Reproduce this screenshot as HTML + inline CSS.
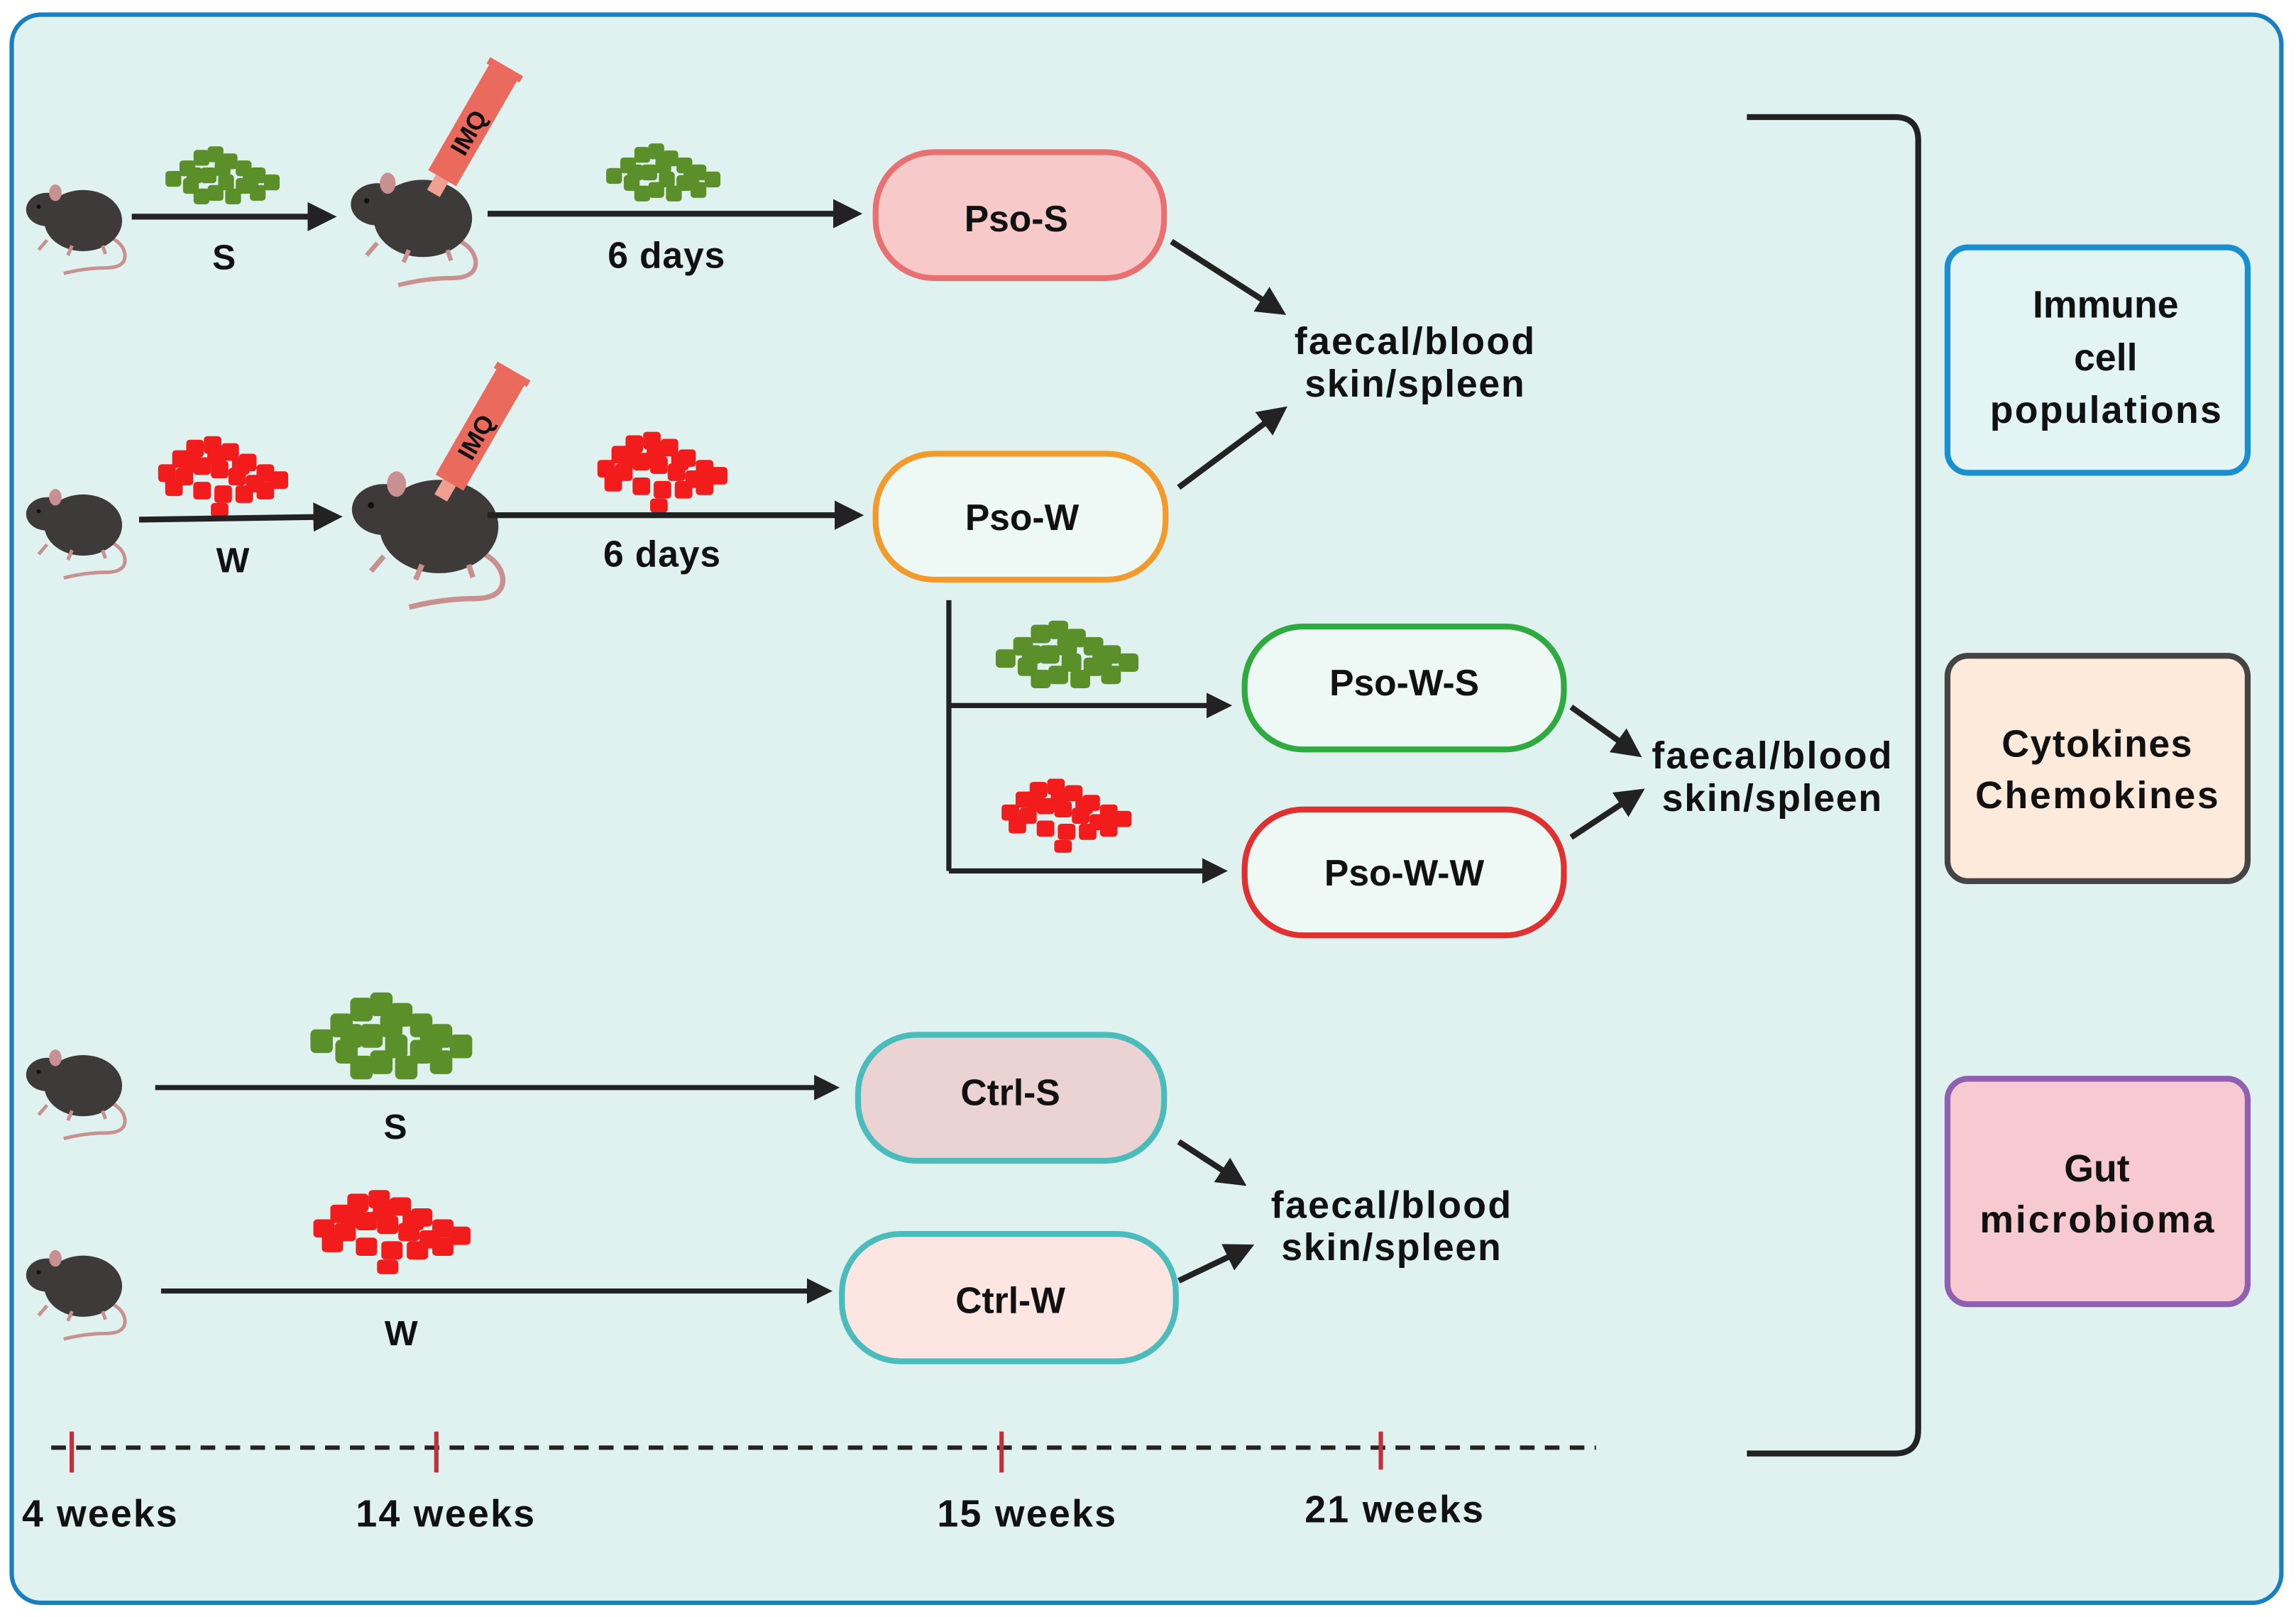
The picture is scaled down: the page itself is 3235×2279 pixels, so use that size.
<!DOCTYPE html>
<html><head><meta charset="utf-8"><style>
html,body{margin:0;padding:0;background:#fff}
svg{display:block}
text{font-family:"Liberation Sans",sans-serif;font-weight:bold;fill:#111}
</style></head><body>
<svg width="3235" height="2279" viewBox="0 0 1568 1104.7" preserveAspectRatio="none" xmlns="http://www.w3.org/2000/svg">
<defs>
<marker id="ah" viewBox="0 0 10 10" refX="8" refY="5" markerWidth="5" markerHeight="5" orient="auto" markerUnits="strokeWidth"><path d="M0,0 L10,5 L0,10 z" fill="#222"/></marker>
<g id="mouseS">
<path d="M50,34 q22,4 24,16 q1,10 -14,10 q-14,0 -30,4" fill="none" stroke="#c99090" stroke-width="2.5"/>
<ellipse cx="44" cy="26" rx="28" ry="22" fill="#3f3a3a"/>
<ellipse cx="18" cy="18" rx="15" ry="12" fill="#3f3a3a"/>
<ellipse cx="24" cy="6" rx="4.5" ry="6" fill="#c89090"/>
<circle cx="12" cy="16" r="1.5" fill="#111"/>
<path d="M18,40 l-6,7 M36,44 l-3,7 M58,44 l2,6" stroke="#c99090" stroke-width="2.5"/>
</g>
<g id="pileG"><g fill="#5a8f2a">
<rect x="0" y="14" width="9" height="9" rx="2"/><rect x="8" y="8" width="9" height="9" rx="2"/><rect x="16" y="2" width="9" height="9" rx="2"/><rect x="24" y="0" width="9" height="9" rx="2"/><rect x="32" y="4" width="9" height="9" rx="2"/><rect x="40" y="8" width="9" height="9" rx="2"/><rect x="48" y="12" width="9" height="9" rx="2"/><rect x="56" y="16" width="9" height="9" rx="2"/><rect x="10" y="18" width="9" height="9" rx="2"/><rect x="20" y="12" width="9" height="9" rx="2"/><rect x="30" y="16" width="9" height="9" rx="2"/><rect x="40" y="18" width="9" height="9" rx="2"/><rect x="24" y="22" width="9" height="9" rx="2"/><rect x="34" y="24" width="9" height="9" rx="2"/><rect x="48" y="22" width="9" height="9" rx="2"/><rect x="16" y="24" width="9" height="9" rx="2"/><rect x="28" y="8" width="9" height="9" rx="2"/><rect x="12" y="12" width="9" height="9" rx="2"/><rect x="44" y="14" width="9" height="9" rx="2"/></g></g>
<g id="pileR"><g fill="#f21c1c">
<rect x="0" y="16" width="10" height="10" rx="2"/><rect x="8" y="8" width="10" height="10" rx="2"/><rect x="16" y="2" width="10" height="10" rx="2"/><rect x="26" y="0" width="10" height="10" rx="2"/><rect x="36" y="4" width="10" height="10" rx="2"/><rect x="46" y="10" width="10" height="10" rx="2"/><rect x="56" y="16" width="10" height="10" rx="2"/><rect x="64" y="20" width="10" height="10" rx="2"/><rect x="10" y="18" width="10" height="10" rx="2"/><rect x="20" y="12" width="10" height="10" rx="2"/><rect x="30" y="14" width="10" height="10" rx="2"/><rect x="40" y="18" width="10" height="10" rx="2"/><rect x="50" y="22" width="10" height="10" rx="2"/><rect x="20" y="26" width="10" height="10" rx="2"/><rect x="32" y="28" width="10" height="10" rx="2"/><rect x="44" y="28" width="10" height="10" rx="2"/><rect x="30" y="38" width="10" height="8" rx="2"/><rect x="28" y="6" width="10" height="10" rx="2"/><rect x="14" y="10" width="10" height="10" rx="2"/><rect x="42" y="12" width="10" height="10" rx="2"/><rect x="4" y="24" width="10" height="10" rx="2"/><rect x="56" y="26" width="10" height="10" rx="2"/></g></g>
<g id="tube"><rect x="-11" y="-82" width="22" height="84" fill="#ea6b5e"/><rect x="-13" y="-86" width="26" height="5" fill="#ea6b5e"/><rect x="-5" y="2" width="10" height="12" fill="#f0a090"/><text x="0" y="-34" font-size="17" transform="rotate(-90 0 -34)" text-anchor="middle" dy="6">IMQ</text></g>
</defs>
<rect x="8" y="10" width="1550" height="1085" rx="20" fill="#dff2ef" stroke="#1a7fc1" stroke-width="3"/>

<!-- row 1 -->
<use href="#mouseS" transform="translate(15,126) scale(0.95)"/>
<use href="#pileG" transform="translate(113,100) scale(1.2)"/>
<line x1="90" y1="148" x2="226" y2="148" stroke="#222" stroke-width="4" marker-end="url(#ah)"/>
<text x="153" y="184" font-size="24" text-anchor="middle" textLength="18">S</text>
<use href="#mouseS" transform="translate(236,118) scale(1.2)"/>
<use href="#tube" transform="translate(303,120) rotate(30)"/>
<use href="#pileG" transform="translate(414,98) scale(1.2)"/>
<line x1="333" y1="146" x2="585" y2="146" stroke="#222" stroke-width="4" marker-end="url(#ah)"/>
<text x="455" y="183" font-size="25" text-anchor="middle" textLength="80">6 days</text>

<!-- row 2 -->
<use href="#mouseS" transform="translate(15,334) scale(0.95)"/>
<use href="#pileR" transform="translate(108,298) scale(1.2)"/>
<line x1="95" y1="355" x2="230" y2="353" stroke="#222" stroke-width="4" marker-end="url(#ah)"/>
<text x="159" y="391" font-size="24" text-anchor="middle">W</text>
<use href="#mouseS" transform="translate(236,322) scale(1.45)"/>
<use href="#tube" transform="translate(308,328) rotate(30)"/>
<use href="#pileR" transform="translate(408,295) scale(1.2)"/>
<line x1="333" y1="352" x2="586" y2="352" stroke="#222" stroke-width="4" marker-end="url(#ah)"/>
<text x="452" y="387" font-size="25" text-anchor="middle" textLength="80">6 days</text>

<!-- boxes -->
<rect x="598" y="104" width="197" height="86" rx="40" fill="#f7c9c9" stroke="#e87070" stroke-width="4"/>
<text x="694" y="158" font-size="25" text-anchor="middle">Pso-S</text>
<rect x="598" y="310" width="198" height="86" rx="40" fill="#eef8f4" stroke="#f39a2c" stroke-width="4"/>
<text x="698" y="362" font-size="25" text-anchor="middle">Pso-W</text>

<line x1="800" y1="165" x2="875" y2="213" stroke="#222" stroke-width="4" marker-end="url(#ah)"/>
<line x1="805" y1="333" x2="876" y2="280" stroke="#222" stroke-width="4" marker-end="url(#ah)"/>
<text x="966" y="242" font-size="26" text-anchor="middle" textLength="164">faecal/blood</text>
<text x="966" y="271" font-size="26" text-anchor="middle" textLength="150">skin/spleen</text>

<!-- branch -->
<polyline points="648,410 648,595" fill="none" stroke="#222" stroke-width="3.5"/>
<line x1="648" y1="482" x2="838" y2="482" stroke="#222" stroke-width="3.5" marker-end="url(#ah)"/>
<line x1="648" y1="595" x2="835" y2="595" stroke="#222" stroke-width="3.5" marker-end="url(#ah)"/>
<use href="#pileG" transform="translate(680,424) scale(1.5,1.4)"/>
<use href="#pileR" transform="translate(684,532) scale(1.2,1.1)"/>
<rect x="850" y="428" width="218" height="84" rx="40" fill="#eef8f4" stroke="#2eaa3e" stroke-width="4"/>
<text x="959" y="475" font-size="25" text-anchor="middle">Pso-W-S</text>
<rect x="850" y="553" width="218" height="86" rx="40" fill="#eef8f4" stroke="#e03030" stroke-width="4"/>
<text x="959" y="605" font-size="25" text-anchor="middle">Pso-W-W</text>
<line x1="1073" y1="483" x2="1118" y2="515" stroke="#222" stroke-width="4" marker-end="url(#ah)"/>
<line x1="1073" y1="572" x2="1120" y2="541" stroke="#222" stroke-width="4" marker-end="url(#ah)"/>
<text x="1210" y="525" font-size="26" text-anchor="middle" textLength="164">faecal/blood</text>
<text x="1210" y="554" font-size="26" text-anchor="middle" textLength="150">skin/spleen</text>

<!-- ctrl -->
<use href="#mouseS" transform="translate(15,717) scale(0.95)"/>
<use href="#pileG" transform="translate(212,678) scale(1.7,1.8)"/>
<line x1="106" y1="743" x2="570" y2="743" stroke="#222" stroke-width="3.5" marker-end="url(#ah)"/>
<text x="270" y="778" font-size="24" text-anchor="middle">S</text>
<rect x="586" y="707" width="209" height="86" rx="40" fill="#ecd3d3" stroke="#4bbcbc" stroke-width="4"/>
<text x="690" y="755" font-size="25" text-anchor="middle">Ctrl-S</text>
<use href="#mouseS" transform="translate(15,854) scale(0.95)"/>
<use href="#pileR" transform="translate(214,813) scale(1.45,1.25)"/>
<line x1="110" y1="882" x2="565" y2="882" stroke="#222" stroke-width="3.5" marker-end="url(#ah)"/>
<text x="274" y="919" font-size="24" text-anchor="middle">W</text>
<rect x="575" y="843" width="228" height="87" rx="40" fill="#fde6e2" stroke="#4bbcbc" stroke-width="4"/>
<text x="690" y="897" font-size="25" text-anchor="middle">Ctrl-W</text>
<line x1="805" y1="780" x2="848" y2="808" stroke="#222" stroke-width="4" marker-end="url(#ah)"/>
<line x1="805" y1="875" x2="853" y2="852" stroke="#222" stroke-width="4" marker-end="url(#ah)"/>
<text x="950" y="832" font-size="26" text-anchor="middle" textLength="164">faecal/blood</text>
<text x="950" y="861" font-size="26" text-anchor="middle" textLength="150">skin/spleen</text>

<!-- timeline -->
<line x1="35" y1="989" x2="1090" y2="989" stroke="#222" stroke-width="3" stroke-dasharray="10,7"/>
<g stroke="#c0323a" stroke-width="3"><line x1="49" y1="978" x2="49" y2="1006"/><line x1="298" y1="978" x2="298" y2="1006"/><line x1="684" y1="978" x2="684" y2="1006"/><line x1="943" y1="978" x2="943" y2="1004"/></g>
<text x="68" y="1043" font-size="26" text-anchor="middle" textLength="106">4 weeks</text>
<text x="304" y="1043" font-size="26" text-anchor="middle" textLength="122">14 weeks</text>
<text x="701" y="1043" font-size="26" text-anchor="middle" textLength="122">15 weeks</text>
<text x="952" y="1040" font-size="26" text-anchor="middle" textLength="122">21 weeks</text>

<!-- bracket -->
<path d="M1193,80 H1294 Q1310,80 1310,96 V977 Q1310,993 1294,993 H1193" fill="none" stroke="#222" stroke-width="4"/>

<rect x="1330" y="169" width="205" height="154" rx="14" fill="#e3f4f5" stroke="#1a8fd0" stroke-width="4"/>
<text x="1438" y="217" font-size="26" text-anchor="middle">Immune</text>
<text x="1438" y="253" font-size="26" text-anchor="middle">cell</text>
<text x="1438" y="289" font-size="26" text-anchor="middle" textLength="158">populations</text>
<rect x="1330" y="448" width="205" height="154" rx="14" fill="#fdeadb" stroke="#444" stroke-width="4"/>
<text x="1432" y="517" font-size="26" text-anchor="middle" textLength="130">Cytokines</text>
<text x="1432" y="552" font-size="26" text-anchor="middle" textLength="166">Chemokines</text>
<rect x="1330" y="737" width="205" height="154" rx="14" fill="#f7c9d0" stroke="#9060b0" stroke-width="4"/>
<text x="1432" y="807" font-size="26" text-anchor="middle">Gut</text>
<text x="1432" y="842" font-size="26" text-anchor="middle" textLength="160">microbioma</text>
</svg>
</body></html>
